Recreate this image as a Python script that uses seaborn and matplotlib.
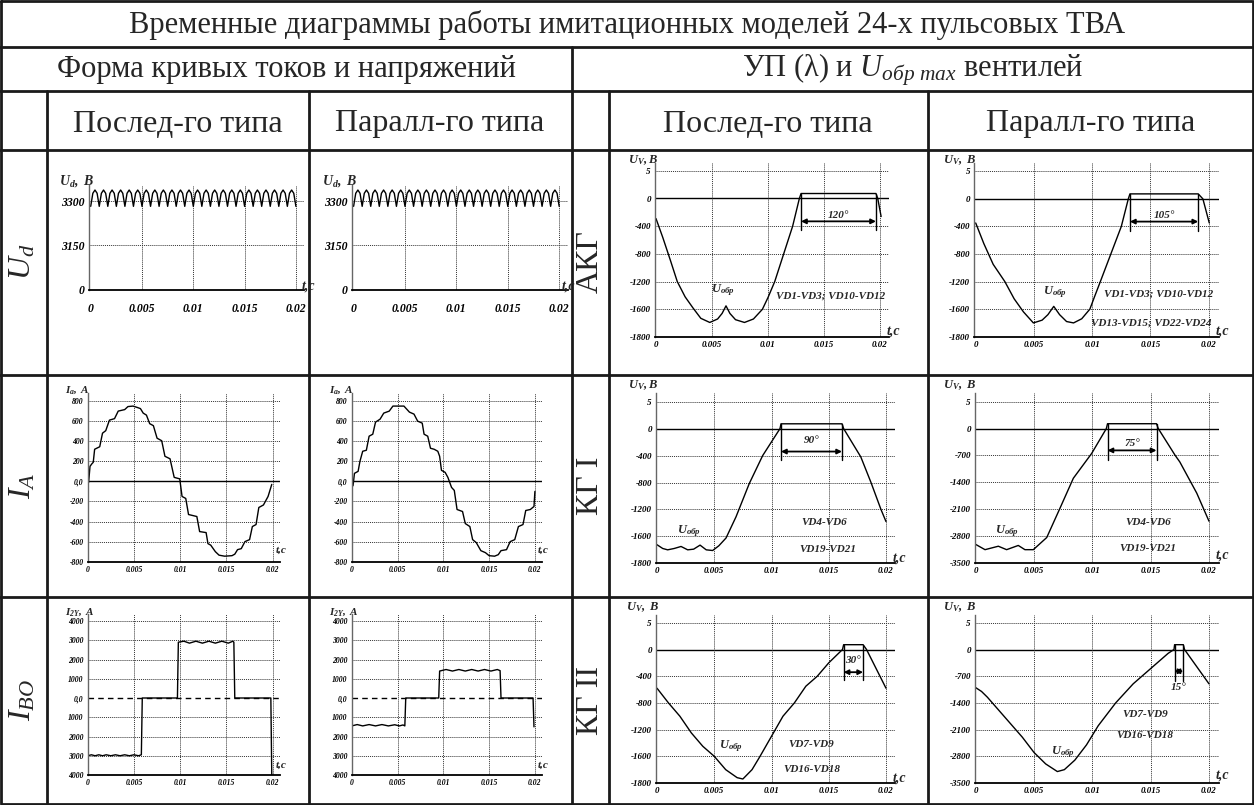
import numpy as np
import matplotlib
matplotlib.use("Agg")
import matplotlib.pyplot as plt
import seaborn as sns

sns.set_theme(style="white")
plt.rcParams["font.family"] = ["Liberation Serif", "DejaVu Serif"]
plt.rcParams["mathtext.fontset"] = "custom"
plt.rcParams["mathtext.rm"] = "Liberation Serif"
plt.rcParams["mathtext.it"] = "Liberation Serif:italic"
plt.rcParams["mathtext.bf"] = "Liberation Serif:italic:bold"

W, H = 1254, 805

# ---------------- data (time in ms) ----------------
t_ticks = [0, 5, 10, 15, 20]
t_tick_labels = ["0", "0.005", "0.01", "0.015", "0.02"]

ud_levels = [0, 3150, 3300]
ud_labels = ["0", "3150", "3300"]
ud_t = np.linspace(0, 20, 97)  # 4 samples per pulse
ud_v = [3282, 3326, 3337, 3326, 3282, 3326, 3337, 3326, 3282, 3326, 3337, 3326,
        3282, 3326, 3337, 3326, 3282, 3326, 3337, 3326, 3282, 3326, 3337, 3326,
        3282, 3326, 3337, 3326, 3282, 3326, 3337, 3326, 3282, 3326, 3337, 3326,
        3282, 3326, 3337, 3326, 3282, 3326, 3337, 3326, 3282, 3326, 3337, 3326,
        3282, 3326, 3337, 3326, 3282, 3326, 3337, 3326, 3282, 3326, 3337, 3326,
        3282, 3326, 3337, 3326, 3282, 3326, 3337, 3326, 3282, 3326, 3337, 3326,
        3282, 3326, 3337, 3326, 3282, 3326, 3337, 3326, 3282, 3326, 3337, 3326,
        3282, 3326, 3337, 3326, 3282, 3326, 3337, 3326, 3282, 3326, 3337, 3326,
        3282]

ia_levels = [-800, -600, -400, -200, 0, 200, 400, 600, 800]
ia_labels = ["-800", "-600", "-400", "-200", "0,0", "200", "400", "600", "800"]
ia_seq_t = [0.0, 0.1, 0.25, 0.45, 0.6, 0.75, 1.3, 1.6, 1.95, 2.35, 2.9, 3.3, 4.0, 4.35,
            4.9, 5.4, 5.7, 6.0, 6.35, 6.7, 7.1, 7.5, 8.0, 8.35, 8.9, 9.35, 9.95, 10.2,
            10.6, 10.9, 11.8, 12.1, 12.8, 13.0, 13.3, 13.8, 14.2, 14.8, 15.6, 15.9,
            16.2, 16.6, 17.0, 17.5, 17.8, 18.2, 18.5, 19.0, 19.5, 19.9]
ia_seq_v = [-20, -10, 150, 175, 190, 320, 345, 480, 505, 610, 625, 700, 715, 745,
            750, 735, 725, 680, 660, 575, 555, 430, 405, 250, 225, 40, 25, -150,
            -170, -330, -350, -500, -510, -620, -635, -700, -735, -745, -740, -725,
            -680, -670, -600, -580, -450, -430, -260, -235, -150, -30]
ia_par_t = [0.0, 0.15, 0.3, 0.7, 0.9, 1.2, 1.6, 1.9, 2.3, 2.6, 3.1, 3.5, 4.1, 4.5,
            5.7, 6.0, 6.3, 6.8, 7.2, 7.7, 7.9, 8.3, 8.6, 9.0, 9.4, 9.6, 9.8, 10.2,
            10.5, 10.9, 11.2, 11.5, 12.1, 12.4, 12.9, 13.2, 13.6, 14.1, 14.6, 15.0,
            15.6, 16.0, 16.3, 16.9, 17.3, 17.8, 18.2, 18.7, 19.0, 19.5, 19.9, 20.0]
ia_par_v = [-60, -40, 80, 100, 200, 300, 310, 450, 470, 590, 620, 680, 700, 750,
            750, 720, 690, 670, 600, 580, 470, 450, 330, 320, 300, 250, 110, 90,
            40, -60, -90, -280, -300, -420, -450, -580, -610, -690, -710, -740,
            -745, -730, -690, -680, -600, -580, -450, -430, -290, -280, -250, -100]

ibo_levels = [-4000, -3000, -2000, -1000, 0, 1000, 2000, 3000, 4000]
ibo_labels = ["4000", "3000", "2000", "1000", "0,0", "1000", "2000", "3000", "4000"]
ibo_seq_t = [0, 0.4, 0.8, 1.2, 1.6, 2.0, 2.5, 3.0, 3.5, 4.0, 4.5, 5.0, 5.5, 5.8, 5.9,
             9.7, 9.8, 10.4, 11.0, 11.7, 12.4, 13.1, 13.8, 14.5, 15.2, 15.7, 15.8,
             15.9, 19.8, 19.9]
ibo_seq_v = [-3000, -2950, -3000, -2950, -3000, -2950, -3000, -2950, -3000, -2950,
             -3000, -2950, -3000, -2950, 0, 0, 2900, 2950, 2850, 2950, 2850, 2950,
             2850, 2950, 2850, 2950, 2900, 0, 0, -4000]
ibo_par_t = [0, 0.6, 1.2, 1.9, 2.6, 3.3, 4.0, 4.7, 5.2, 5.6, 5.8, 5.9, 9.5, 9.6,
             10.3, 11.0, 11.7, 12.4, 13.1, 13.8, 14.5, 15.2, 15.9, 16.2, 16.3, 19.8,
             19.9]
ibo_par_v = [-1450, -1380, -1450, -1380, -1450, -1380, -1450, -1390, -1450, -1400,
             -1450, 0, 0, 1400, 1480, 1400, 1480, 1400, 1480, 1400, 1480, 1400,
             1480, 1420, 0, 0, -1500]

kg_levels = [-1800, -1600, -1200, -800, -400, 0, 5]
kg_labels = ["-1800", "-1600", "-1200", "-800", "-400", "0", "5"]
kgp_levels = [-3500, -2800, -2100, -1400, -700, 0, 5]
kgp_labels = ["-3500", "-2800", "-2100", "-1400", "-700", "0", "5"]

akg_seq_t = [0, 0.6, 1.3, 1.9, 2.6, 3.3, 4.0, 4.8, 5.5, 5.9, 6.25, 6.6, 7.1, 7.9,
             8.7, 9.5, 10.0, 10.6, 11.4, 12.2, 12.8, 12.95, 19.64, 19.8, 20.1]
akg_seq_v = [-290, -560, -900, -1200, -1420, -1580, -1665, -1695, -1670, -1630,
             -1550, -1630, -1675, -1695, -1670, -1600, -1430, -1200, -800, -400, 0,
             0.9, 0.9, 0, -260]
akg_par_t = [0, 0.7, 1.5, 2.5, 3.3, 4.1, 4.95, 5.7, 6.2, 6.7, 7.2, 7.8, 8.4, 9.1,
             9.8, 10.2, 10.7, 11.6, 12.5, 13.1, 13.24, 19.1, 19.5, 20.05]
akg_par_v = [-350, -650, -950, -1200, -1450, -1620, -1700, -1680, -1640, -1560,
             -1640, -1690, -1700, -1670, -1600, -1420, -1200, -800, -400, 0, 0.9,
             0.9, 0, -350]

kg1_seq_t = [0, 0.5, 0.93, 1.5, 2.1, 2.68, 3.2, 3.76, 4.3, 4.86, 5.4, 6.03, 6.9, 8.06,
             9.23, 10.74, 10.83, 16.16, 16.3, 17.8, 18.69, 19.56, 20.0]
kg1_seq_v = [-1662, -1690, -1700, -1690, -1675, -1700, -1695, -1665, -1700, -1705,
             -1670, -1612, -1310, -815, -400, 0, 0.9, 0.9, 0, -420, -800, -1200,
             -1380]
kg1_par_t = [0, 0.8, 1.94, 2.65, 3.65, 4.22, 4.94, 6.09, 7.23, 8.37, 9.94, 11.2,
             11.3, 15.5, 15.65, 17.1, 17.5, 18.95, 20.0]
kg1_par_v = [-3023, -3160, -3070, -3160, -3050, -3160, -3160, -2843, -2075, -1297,
             -650, 0, 0.9, 0.9, 0, -700, -872, -1685, -2417]

kg2_seq_t = [0, 1, 2, 3, 4, 5, 6, 7, 7.5, 8.3, 9, 10, 11, 12, 13, 14, 15, 16.2, 16.3,
             18.0, 18.3, 20]
kg2_seq_v = [-580, -800, -1000, -1250, -1450, -1600, -1700, -1760, -1770, -1700,
             -1600, -1300, -1000, -800, -550, -400, -200, 0, 0.9, 0.9, 0, -580]
kg2_par_t = [0, 0.5, 1, 2, 3, 4, 5, 6, 7, 7.6, 8.5, 9.5, 10.5, 12, 13.5, 15, 16.5, 17.0,
             17.05, 17.8, 17.9, 20]
kg2_par_v = [-1000, -1100, -1250, -1600, -1950, -2300, -2700, -3000, -3200, -3150,
             -2900, -2500, -2000, -1400, -900, -500, -100, 0, 0.9, 0.9, 0, -900]

# conduction spans (start, end) and the angle they mark
spans = {"akg_seq": (12.95, 19.64, "120°"), "akg_par": (13.24, 19.1, "105°"),
         "kg1_seq": (10.83, 16.16, "90°"), "kg1_par": (11.3, 15.5, "75°"),
         "kg2_seq": (16.3, 18.0, "30°"), "kg2_par": (17.05, 17.8, "15°")}

# ---------------- figure ----------------
fig = plt.figure(figsize=(W / 100, H / 100), dpi=100)
frame = fig.add_axes([0, 0, 1, 1])
frame.set_xlim(0, W)
frame.set_ylim(H, 0)
frame.axis("off")

LW = 2.0
frame.plot([1, W - 1, W - 1, 1, 1], [1, 1, H - 1, H - 1, 1], color="k", lw=LW)
for y in [47, 91, 150, 375, 597]:
    frame.plot([0, W], [y, y], color="k", lw=LW)
frame.plot([572, 572], [47, H], color="k", lw=LW)
for x in [47, 309, 609, 928]:
    frame.plot([x, x], [91, H], color="k", lw=LW)

HFS = 22
frame.text(627, 25, "Временные диаграммы работы имитационных моделей 24-х пульсовых ТВА",
           ha="center", va="center", fontsize=HFS)
frame.text(286, 70, "Форма кривых токов и напряжений", ha="center", va="center", fontsize=HFS)
frame.text(913, 70, r"УП (λ) и $U_{обр\ max}$ вентилей", ha="center", va="center", fontsize=HFS)
for x, s in [(178, "Послед-го типа"), (440, "Паралл-го типа"),
             (768, "Послед-го типа"), (1091, "Паралл-го типа")]:
    frame.text(x, 124, s, ha="center", va="center", fontsize=23)
for y, s in [(262, r"$U_d$"), (486, r"$I_A$"), (700, r"$I_{BO}$")]:
    frame.text(23, y, s, ha="center", va="center", rotation=90, fontsize=23)
for y, s in [(262, "АКГ"), (486, "КГ I"), (700, "КГ II")]:
    frame.text(590, y, s, ha="center", va="center", rotation=90, fontsize=23)


def add_panel(box, t0_px, px_ms, levels, labels, lvl0_px, step_px, fs=6.5, zero_ls="-",
              xpad=3):
    L, T, R, B = box
    ax = fig.add_axes([L / W, 1 - B / H, (R - L) / W, (B - T) / H])
    xp = np.r_[2 * levels[0] - levels[1], levels, 2 * levels[-1] - levels[-2]].astype(float)
    fp = np.arange(-1, len(levels) + 1, dtype=float)
    ax.set_yscale("function", functions=(lambda v: np.interp(v, xp, fp),
                                         lambda u: np.interp(u, fp, xp)))
    ax.set_xlim((L - t0_px) / px_ms, (R - t0_px) / px_ms)
    ax.set_ylim(np.interp((lvl0_px - B) / step_px, fp, xp),
                np.interp((lvl0_px - T) / step_px, fp, xp))
    ax.set_facecolor("none")
    ax.spines["top"].set_visible(False)
    ax.spines["right"].set_visible(False)
    ax.spines["left"].set_color("#666666")
    ax.spines["left"].set_linewidth(1.0)
    ax.spines["bottom"].set_color("black")
    ax.spines["bottom"].set_linewidth(1.3)
    ax.set_yticks(levels)
    ax.set_yticklabels(labels)
    ax.set_xticks(t_ticks)
    ax.set_xticklabels(t_tick_labels)
    ax.tick_params(length=0, pad=3, labelsize=fs, colors="black")
    ax.tick_params(axis="x", pad=xpad)
    for lab in ax.get_xticklabels() + ax.get_yticklabels():
        lab.set_fontweight("bold")
        lab.set_fontstyle("italic")
    for lv in levels[1:]:
        if lv == 0:
            ax.axhline(0, color="black", lw=1.0, ls=zero_ls)
        else:
            ax.axhline(lv, color="#333333", lw=0.7, ls=(0, (1, 1)))
    for tv in t_ticks[1:]:
        ax.axvline(tv, color="#333333", lw=0.7, ls=(0, (1, 1)))
    ax.set_xlabel("")
    ax.set_ylabel("")
    return ax


def curve(ax, t, v):
    sns.lineplot(x=np.asarray(t, float), y=np.asarray(v, float), ax=ax, color="black",
                 lw=1.0, sort=False, estimator=None)


def span(ax, key, y_arrow, y_low, y_text):
    t1, t2, lab = spans[key]
    for tt in (t1, t2):
        ax.plot([tt, tt], [0.9, y_low], color="black", lw=1.0)
    ax.annotate("", xy=(t2, y_arrow), xytext=(t1, y_arrow),
                arrowprops=dict(arrowstyle="<|-|>", color="black", lw=1.3,
                                mutation_scale=7, shrinkA=0, shrinkB=0))
    ax.text((t1 + t2) / 2, y_text, lab, ha="center", va="center", fontsize=8,
            fontweight="bold", fontstyle="italic")


def btext(ax, x, y, s, fs=8, ha="center"):
    ax.text(x, y, s, ha=ha, va="center", fontsize=fs, fontweight="bold",
            fontstyle="italic", clip_on=False)


# ---- U_d ----
for (L, R, t0, k, tc) in [(88.7, 303.7, 90.7, 10.26, 20.6), (351.7, 568.3, 353.6, 10.28, 20.25)]:
    ax = add_panel((L, 185, R, 290), t0, k, ud_levels, ud_labels, 290, 44.5, fs=8.5, xpad=9)
    curve(ax, ud_t, ud_v)
    frame.text(L - 12, 181, r"$\mathbf{U_{d},\ B}$", ha="center", va="center", fontsize=10)
    btext(ax, tc, 300, "t,c", fs=10, ha="left")

# ---- I_A ----
for (L, R, k, t, v) in [(87.7, 280.3, 9.25, ia_seq_t, ia_seq_v),
                        (351.7, 542.3, 9.16, ia_par_t, ia_par_v)]:
    ax = add_panel((L, 393, R, 561.7), L, k, ia_levels, ia_labels, 561.7, 20.08, fs=5.5)
    curve(ax, t, v)
    frame.text(L - 10, 390, r"$\mathbf{I_{a},\ A}$", ha="center", va="center", fontsize=8)
    btext(ax, 20.3, -690, "t,c", fs=8, ha="left")

# ---- I_BO ----
for (L, R, k, t, v) in [(87.7, 280.3, 9.25, ibo_seq_t, ibo_seq_v),
                        (351.7, 542.3, 9.16, ibo_par_t, ibo_par_v)]:
    ax = add_panel((L, 614, R, 775), L, k, ibo_levels, ibo_labels, 775, 19.25, fs=5.5,
                   zero_ls=(0, (4, 3)))
    curve(ax, t, v)
    frame.text(L - 8, 612, r"$\mathbf{I_{2Y},\ A}$", ha="center", va="center", fontsize=8)
    btext(ax, 20.3, -3500, "t,c", fs=8, ha="left")

# ---- АКГ ----
ax = add_panel((655, 163, 889.3, 337), 656, 11.2, kg_levels, kg_labels, 337, 27.7)
curve(ax, akg_seq_t, akg_seq_v)
span(ax, "akg_seq", -330, -460, -240)
frame.text(643, 160, r"$\mathbf{U_{V},B}$", ha="center", va="center", fontsize=9)
btext(ax, 5.95, -1330, r"$\mathbf{U_{обр}}$", fs=9)
btext(ax, 15.6, -1410, "VD1-VD3; VD10-VD12", fs=8)
btext(ax, 20.6, -1760, "t,c", fs=10, ha="left")

ax = add_panel((974.3, 163, 1219.3, 336.7), 975.7, 11.65, kg_levels, kg_labels, 336.7, 27.57)
curve(ax, akg_par_t, akg_par_v)
span(ax, "akg_par", -330, -460, -240)
frame.text(960, 160, r"$\mathbf{U_{V},\ B}$", ha="center", va="center", fontsize=9)
btext(ax, 6.8, -1350, r"$\mathbf{U_{обр}}$", fs=9)
btext(ax, 15.7, -1380, "VD1-VD3; VD10-VD12", fs=8)
btext(ax, 15.1, -1700, "VD13-VD15; VD22-VD24", fs=8)
btext(ax, 20.6, -1760, "t,c", fs=10, ha="left")

# ---- КГ I ----
ax = add_panel((656, 393, 895, 563.3), 657, 11.45, kg_levels, kg_labels, 563.3, 26.93)
curve(ax, kg1_seq_t, kg1_seq_v)
span(ax, "kg1_seq", -340, -460, -170)
frame.text(643, 385, r"$\mathbf{U_{V},B}$", ha="center", va="center", fontsize=9)
btext(ax, 2.8, -1520, r"$\mathbf{U_{обр}}$", fs=9)
btext(ax, 14.6, -1400, "VD4-VD6", fs=8)
btext(ax, 14.9, -1700, "VD19-VD21", fs=8)
btext(ax, 20.6, -1760, "t,c", fs=10, ha="left")

ax = add_panel((975, 393, 1219.3, 562.7), 975.7, 11.665, kgp_levels, kgp_labels, 562.7, 26.83)
curve(ax, kg1_par_t, kg1_par_v)
span(ax, "kg1_par", -570, -830, -390)
frame.text(960, 385, r"$\mathbf{U_{V},\ B}$", ha="center", va="center", fontsize=9)
btext(ax, 2.66, -2670, r"$\mathbf{U_{обр}}$", fs=9)
btext(ax, 14.8, -2460, "VD4-VD6", fs=8)
btext(ax, 14.8, -3130, "VD19-VD21", fs=8)
btext(ax, 20.6, -3300, "t,c", fs=10, ha="left")

# ---- КГ II ----
ax = add_panel((656, 615, 895, 783), 657, 11.45, kg_levels, kg_labels, 783, 26.7)
curve(ax, kg2_seq_t, kg2_seq_v)
span(ax, "kg2_seq", -340, -460, -170)
frame.text(643, 607, r"$\mathbf{U_{V},\ B}$", ha="center", va="center", fontsize=9)
btext(ax, 6.5, -1450, r"$\mathbf{U_{обр}}$", fs=9)
btext(ax, 13.5, -1420, "VD7-VD9", fs=8)
btext(ax, 13.5, -1700, "VD16-VD18", fs=8)
btext(ax, 20.6, -1760, "t,c", fs=10, ha="left")

ax = add_panel((975, 615, 1219.3, 783), 975.7, 11.665, kgp_levels, kgp_labels, 783, 26.7)
curve(ax, kg2_par_t, kg2_par_v)
span(ax, "kg2_par", -570, -830, -1000)
frame.text(960, 607, r"$\mathbf{U_{V},\ B}$", ha="center", va="center", fontsize=9)
btext(ax, 7.5, -2700, r"$\mathbf{U_{обр}}$", fs=9)
btext(ax, 14.5, -1700, "VD7-VD9", fs=8)
btext(ax, 14.5, -2250, "VD16-VD18", fs=8)
btext(ax, 20.6, -3300, "t,c", fs=10, ha="left")

fig.savefig("out.png", dpi=100)
